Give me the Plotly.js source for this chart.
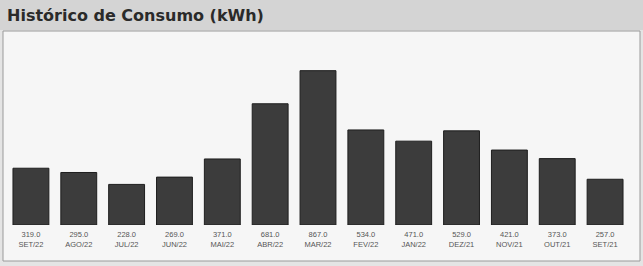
<!DOCTYPE html>
<html><head><meta charset="utf-8">
<script src="https://cdn.plot.ly/plotly-3.0.1.min.js"></script>
<style>html,body{margin:0;padding:0;background:#e6e6e6;}#c{width:643px;height:266px;}</style>
</head><body><div id="c"></div>
<script>
const months = ["SET/22","AGO/22","JUL/22","JUN/22","MAI/22","ABR/22","MAR/22","FEV/22","JAN/22","DEZ/21","NOV/21","OUT/21","SET/21"];
const consumo = [319, 295, 228, 269, 371, 681, 867, 534, 471, 529, 421, 373, 257];
const valueLabels = ["319.0","295.0","228.0","269.0","371.0","681.0","867.0","534.0","471.0","529.0","421.0","373.0","257.0"];

const tickText = months.map((m,i)=>valueLabels[i]+"<br>"+m);
const L=7, R=14, T=47, B=41, W=643, H=266;
const pw=W-L-R, ph=H-T-B;
const px = x => (x-L)/pw;
const py = y => (H-B-y)/ph;

const data=[{
  type:'bar', x:months, y:consumo,
  marker:{color:'#3c3c3c', line:{color:'#1e1e1e', width:1}},
  hoverinfo:'x+y'
}];
const layout={
  width:W, height:H,
  margin:{l:L,r:R,t:T,b:B,pad:0},
  paper_bgcolor:'#e4e4e4', plot_bgcolor:'rgba(0,0,0,0)',
  bargap:0.25,
  showlegend:false,
  xaxis:{type:'category', tickmode:'array', tickvals:months, ticktext:tickText,
    tickfont:{family:'Liberation Sans, Arial, sans-serif', size:7.5, color:'#555'},
    showgrid:false, zeroline:false, showline:false, ticks:'outside', ticklen:2, tickcolor:'rgba(0,0,0,0)', fixedrange:true},
  yaxis:{range:[0,1000], visible:false, showgrid:false, zeroline:false, fixedrange:true},
  shapes:[
    {type:'rect', xref:'paper', yref:'paper', x0:px(-2), x1:px(645), y0:py(30), y1:py(-2), fillcolor:'#d4d4d4', line:{width:0}, layer:'below'},
    {type:'rect', xref:'paper', yref:'paper', x0:px(3), x1:px(640), y0:py(261), y1:py(31), fillcolor:'#f6f6f6', line:{color:'#9a9a9a', width:1}, layer:'below'}
  ],
  annotations:[
    {text:'<b>Histórico de Consumo (kWh)</b>', xref:'paper', yref:'paper', x:px(5), y:py(15), xanchor:'left', yanchor:'middle', showarrow:false,
     font:{family:'DejaVu Sans, sans-serif', size:16, color:'#2a2a2a'}}
  ]
};
Plotly.newPlot('c', data, layout, {displayModeBar:false, staticPlot:true});
</script></body></html>
